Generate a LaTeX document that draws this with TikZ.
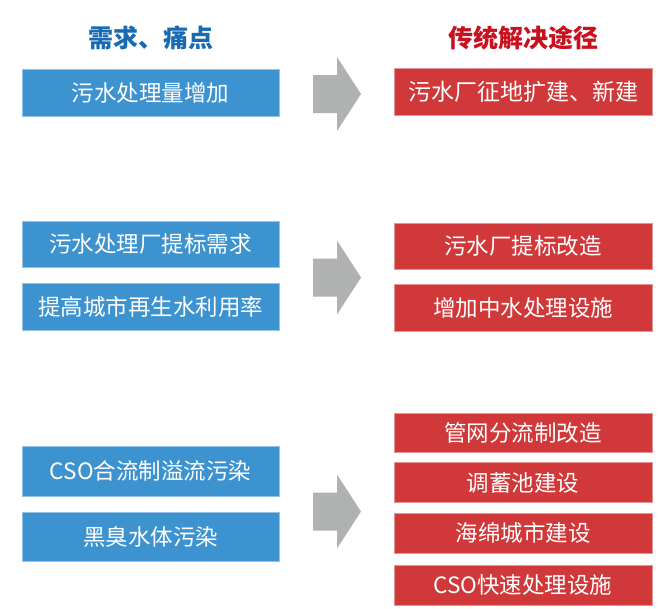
\documentclass[tikz,border=0pt]{standalone}
\usepackage{fontspec}
\newfontfamily\cjk{Noto Sans CJK SC}
\usetikzlibrary{positioning}
\definecolor{needblue}{RGB}{61,147,208}
\definecolor{titleblue}{RGB}{24,106,178}
\definecolor{wayred}{RGB}{208,56,58}
\definecolor{titlered}{RGB}{200,16,30}
\definecolor{arrowgray}{RGB}{176,177,177}
\newcommand{\bigarrow}[1]{\fill[arrowgray] (313,#1-19) -- (337,#1-19) -- (337,#1-37) -- (361,#1) -- (337,#1+37) -- (337,#1+19) -- (313,#1+19) -- cycle;}

\begin{document}
\begin{tikzpicture}[x=1pt, y=-1pt,
    need/.style={rectangle, fill=needblue, draw=needblue!55!white, line width=0.6pt,
        text=white, minimum width=257pt, inner sep=0pt,
        font=\cjk\fontsize{22.5}{26}\selectfont},
    way/.style={rectangle, fill=wayred, draw=wayred!55!white, line width=0.6pt,
        text=white, minimum width=258pt, inner sep=0pt,
        font=\cjk\fontsize{22.5}{26}\selectfont},
    head/.style={font=\cjk\bfseries\fontsize{25}{28}\selectfont}]
    \useasboundingbox (0,0) rectangle (661,608);

    % column titles
    \node (needtitle) [head, text=titleblue] at (150.5,38) {需求、痛点};
    \node (waytitle) [head, text=titlered] at (523,38) {传统解决途径};

    % first row
    \node (need1) [need, minimum height=47pt] at (150.5,92.5) {污水处理量增加};
    \node (way1) [way, minimum height=47pt, font=\cjk\fontsize{23}{27}\selectfont] at (523,91.5) {污水厂征地扩建、新建};
    \bigarrow{94}

    % second row
    \node (need2) [need, minimum height=46pt] at (150.5,244) {污水处理厂提标需求};
    \node (need3) [need, minimum height=47pt, below=16pt of need2] {提高城市再生水利用率};
    \node (way2) [way, minimum height=46pt] at (523,246) {污水厂提标改造};
    \node (way3) [way, minimum height=47pt, below=15pt of way2] {增加中水处理设施};
    \bigarrow{277.5}

    % third row
    \node (need4) [need, minimum height=50pt] at (150.5,471) {CSO合流制溢流污染};
    \node (need5) [need, minimum height=49pt, below=16pt of need4] {黑臭水体污染};
    \node (way4) [way, minimum height=39pt] at (523,432.5) {管网分流制改造};
    \node (way5) [way, minimum height=40pt, below=10pt of way4] {调蓄池建设};
    \node (way6) [way, minimum height=40pt, below=10pt of way5] {海绵城市建设};
    \node (way7) [way, minimum height=40pt, below=11pt of way6] {CSO快速处理设施};
    \bigarrow{511.5}
\end{tikzpicture}
\end{document}
